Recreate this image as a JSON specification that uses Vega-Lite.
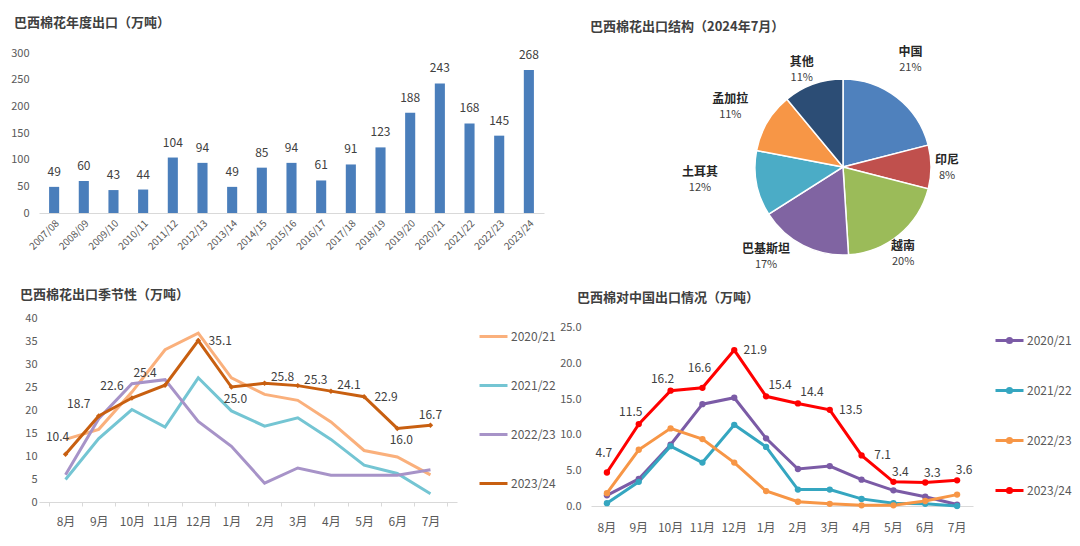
{
  "$schema": "https://vega.github.io/schema/vega-lite/v6.json",
  "padding": {"left": 10, "top": 17, "right": 0, "bottom": 0},
  "background": "white",
  "config": {
    "font": "Noto Sans CJK SC",
    "view": {"stroke": null},
    "axis": {"grid": false, "labelFont": "Noto Sans CJK SC", "labelColor": "#595959", "labelFontSize": 11},
    "title": {"font": "Noto Sans CJK SC", "fontSize": 13, "fontWeight": "bold", "color": "#404040"},
    "legend": {"labelFont": "Noto Sans CJK SC", "labelFontSize": 12, "labelColor": "#595959"}
  },
  "datasets": {
    "annual": [
      {"year": "2007/08", "value": 49}, {"year": "2008/09", "value": 60}, {"year": "2009/10", "value": 43},
      {"year": "2010/11", "value": 44}, {"year": "2011/12", "value": 104}, {"year": "2012/13", "value": 94},
      {"year": "2013/14", "value": 49}, {"year": "2014/15", "value": 85}, {"year": "2015/16", "value": 94},
      {"year": "2016/17", "value": 61}, {"year": "2017/18", "value": 91}, {"year": "2018/19", "value": 123},
      {"year": "2019/20", "value": 188}, {"year": "2020/21", "value": 243}, {"year": "2021/22", "value": 168},
      {"year": "2022/23", "value": 145}, {"year": "2023/24", "value": 268}
    ],
    "structure": [
      {"country": "中国", "pct": 0.21, "rank": 1},
      {"country": "印尼", "pct": 0.08, "rank": 2},
      {"country": "越南", "pct": 0.20, "rank": 3},
      {"country": "巴基斯坦", "pct": 0.17, "rank": 4},
      {"country": "土耳其", "pct": 0.12, "rank": 5},
      {"country": "孟加拉", "pct": 0.11, "rank": 6},
      {"country": "其他", "pct": 0.11, "rank": 7}
    ],
    "seasonal": [
      {"season": "2020/21", "month": "8月", "value": 13.6}, {"season": "2020/21", "month": "9月", "value": 15.8},
      {"season": "2020/21", "month": "10月", "value": 23.9}, {"season": "2020/21", "month": "11月", "value": 33.1},
      {"season": "2020/21", "month": "12月", "value": 36.7}, {"season": "2020/21", "month": "1月", "value": 27.0},
      {"season": "2020/21", "month": "2月", "value": 23.4}, {"season": "2020/21", "month": "3月", "value": 22.1},
      {"season": "2020/21", "month": "4月", "value": 17.4}, {"season": "2020/21", "month": "5月", "value": 11.2},
      {"season": "2020/21", "month": "6月", "value": 9.8}, {"season": "2020/21", "month": "7月", "value": 5.9},
      {"season": "2021/22", "month": "8月", "value": 4.9}, {"season": "2021/22", "month": "9月", "value": 13.8},
      {"season": "2021/22", "month": "10月", "value": 20.1}, {"season": "2021/22", "month": "11月", "value": 16.3},
      {"season": "2021/22", "month": "12月", "value": 27.0}, {"season": "2021/22", "month": "1月", "value": 19.8},
      {"season": "2021/22", "month": "2月", "value": 16.5}, {"season": "2021/22", "month": "3月", "value": 18.3},
      {"season": "2021/22", "month": "4月", "value": 13.6}, {"season": "2021/22", "month": "5月", "value": 8.0},
      {"season": "2021/22", "month": "6月", "value": 6.2}, {"season": "2021/22", "month": "7月", "value": 1.8},
      {"season": "2022/23", "month": "8月", "value": 5.9}, {"season": "2022/23", "month": "9月", "value": 18.1},
      {"season": "2022/23", "month": "10月", "value": 25.7}, {"season": "2022/23", "month": "11月", "value": 26.6},
      {"season": "2022/23", "month": "12月", "value": 17.5}, {"season": "2022/23", "month": "1月", "value": 12.1},
      {"season": "2022/23", "month": "2月", "value": 4.1}, {"season": "2022/23", "month": "3月", "value": 7.4},
      {"season": "2022/23", "month": "4月", "value": 5.8}, {"season": "2022/23", "month": "5月", "value": 5.8},
      {"season": "2022/23", "month": "6月", "value": 5.8}, {"season": "2022/23", "month": "7月", "value": 7.0},
      {"season": "2023/24", "month": "8月", "value": 10.4}, {"season": "2023/24", "month": "9月", "value": 18.7},
      {"season": "2023/24", "month": "10月", "value": 22.6}, {"season": "2023/24", "month": "11月", "value": 25.4},
      {"season": "2023/24", "month": "12月", "value": 35.1}, {"season": "2023/24", "month": "1月", "value": 25.0},
      {"season": "2023/24", "month": "2月", "value": 25.8}, {"season": "2023/24", "month": "3月", "value": 25.3},
      {"season": "2023/24", "month": "4月", "value": 24.1}, {"season": "2023/24", "month": "5月", "value": 22.9},
      {"season": "2023/24", "month": "6月", "value": 16.0}, {"season": "2023/24", "month": "7月", "value": 16.7}
    ],
    "china": [
      {"season": "2020/21", "month": "8月", "value": 1.5}, {"season": "2020/21", "month": "9月", "value": 3.8},
      {"season": "2020/21", "month": "10月", "value": 8.6}, {"season": "2020/21", "month": "11月", "value": 14.3},
      {"season": "2020/21", "month": "12月", "value": 15.2}, {"season": "2020/21", "month": "1月", "value": 9.5},
      {"season": "2020/21", "month": "2月", "value": 5.2}, {"season": "2020/21", "month": "3月", "value": 5.6},
      {"season": "2020/21", "month": "4月", "value": 3.7}, {"season": "2020/21", "month": "5月", "value": 2.2},
      {"season": "2020/21", "month": "6月", "value": 1.3}, {"season": "2020/21", "month": "7月", "value": 0.2},
      {"season": "2021/22", "month": "8月", "value": 0.4}, {"season": "2021/22", "month": "9月", "value": 3.4},
      {"season": "2021/22", "month": "10月", "value": 8.4}, {"season": "2021/22", "month": "11月", "value": 6.1},
      {"season": "2021/22", "month": "12月", "value": 11.4}, {"season": "2021/22", "month": "1月", "value": 8.3},
      {"season": "2021/22", "month": "2月", "value": 2.3}, {"season": "2021/22", "month": "3月", "value": 2.3},
      {"season": "2021/22", "month": "4月", "value": 1.0}, {"season": "2021/22", "month": "5月", "value": 0.4},
      {"season": "2021/22", "month": "6月", "value": 0.3}, {"season": "2021/22", "month": "7月", "value": 0.0},
      {"season": "2022/23", "month": "8月", "value": 1.8}, {"season": "2022/23", "month": "9月", "value": 7.9},
      {"season": "2022/23", "month": "10月", "value": 10.9}, {"season": "2022/23", "month": "11月", "value": 9.4},
      {"season": "2022/23", "month": "12月", "value": 6.1}, {"season": "2022/23", "month": "1月", "value": 2.1},
      {"season": "2022/23", "month": "2月", "value": 0.6}, {"season": "2022/23", "month": "3月", "value": 0.3},
      {"season": "2022/23", "month": "4月", "value": 0.1}, {"season": "2022/23", "month": "5月", "value": 0.1},
      {"season": "2022/23", "month": "6月", "value": 0.7}, {"season": "2022/23", "month": "7月", "value": 1.6},
      {"season": "2023/24", "month": "8月", "value": 4.7}, {"season": "2023/24", "month": "9月", "value": 11.5},
      {"season": "2023/24", "month": "10月", "value": 16.2}, {"season": "2023/24", "month": "11月", "value": 16.6},
      {"season": "2023/24", "month": "12月", "value": 21.9}, {"season": "2023/24", "month": "1月", "value": 15.4},
      {"season": "2023/24", "month": "2月", "value": 14.4}, {"season": "2023/24", "month": "3月", "value": 13.5},
      {"season": "2023/24", "month": "4月", "value": 7.1}, {"season": "2023/24", "month": "5月", "value": 3.4},
      {"season": "2023/24", "month": "6月", "value": 3.3}, {"season": "2023/24", "month": "7月", "value": 3.6}
    ]
  },
  "resolve": {"scale": {"color": "independent", "x": "independent", "y": "independent"}, "legend": {"color": "independent"}},
  "spacing": 4,
  "vconcat": [
    {
      "spacing": 46,
      "resolve": {"scale": {"color": "independent", "x": "independent", "y": "independent"}, "legend": {"color": "independent"}},
      "hconcat": [
        {
          "title": {"text": "巴西棉花年度出口（万吨）", "anchor": "start", "frame": "bounds", "dx": 4, "offset": 17},
          "width": 505,
          "height": 160,
          "data": {"name": "annual"},
          "encoding": {
            "x": {"field": "year", "type": "nominal", "sort": null,
              "scale": {"paddingInner": 0.66, "paddingOuter": 0.34},
              "axis": {"title": null, "labelAngle": -45, "labelFontSize": 10, "ticks": false, "domainColor": "#D9D9D9", "labelPadding": 5}},
            "y": {"field": "value", "type": "quantitative", "scale": {"domain": [0, 300], "nice": false},
              "axis": {"title": null, "values": [0, 50, 100, 150, 200, 250, 300], "domain": false, "ticks": false, "labelPadding": 10, "minExtent": 29, "maxExtent": 29}}
          },
          "layer": [
            {"mark": {"type": "bar", "color": "#4A7EBB"}},
            {"mark": {"type": "text", "dy": -8, "baseline": "bottom", "fontSize": 12, "color": "#404040"},
             "encoding": {"text": {"field": "value", "type": "quantitative"}}}
          ]
        },
        {
          "title": {"text": "巴西棉花出口结构（2024年7月）", "anchor": "start", "frame": "group", "dx": -70, "offset": -4},
          "width": 366,
          "height": 228,
          "data": {"name": "structure"},
          "encoding": {
            "theta": {"field": "pct", "type": "quantitative", "stack": true},
            "order": {"field": "rank", "type": "quantitative"}
          },
          "layer": [
            {"mark": {"type": "arc", "outerRadius": 88, "stroke": "white", "strokeWidth": 1.5},
             "encoding": {"color": {"field": "country", "type": "nominal",
               "scale": {"domain": ["中国", "印尼", "越南", "巴基斯坦", "土耳其", "孟加拉", "其他"],
                         "range": ["#4F81BD", "#C0504D", "#9BBB59", "#8064A2", "#4BACC6", "#F79646", "#2C4D75"]},
               "legend": null}}},
            {"mark": {"type": "text", "radius": 110, "dx": 0, "dy": -28, "fontSize": 12, "fontWeight": "bold", "color": "#262626"},
             "encoding": {"text": {"condition": {"test": "datum.country === '中国'", "field": "country", "type": "nominal"}, "value": ""}}},
            {"mark": {"type": "text", "radius": 110, "dx": 0, "dy": -12, "fontSize": 11, "color": "#404040"},
             "encoding": {"text": {"condition": {"test": "datum.country === '中国'", "field": "pct", "type": "quantitative", "format": ".0%"}, "value": ""}}},
            {"mark": {"type": "text", "radius": 110, "dx": -6, "dy": -7, "fontSize": 12, "fontWeight": "bold", "color": "#262626"},
             "encoding": {"text": {"condition": {"test": "datum.country === '印尼'", "field": "country", "type": "nominal"}, "value": ""}}},
            {"mark": {"type": "text", "radius": 110, "dx": -6, "dy": 9, "fontSize": 11, "color": "#404040"},
             "encoding": {"text": {"condition": {"test": "datum.country === '印尼'", "field": "pct", "type": "quantitative", "format": ".0%"}, "value": ""}}},
            {"mark": {"type": "text", "radius": 110, "dx": -10, "dy": -6, "fontSize": 12, "fontWeight": "bold", "color": "#262626"},
             "encoding": {"text": {"condition": {"test": "datum.country === '越南'", "field": "country", "type": "nominal"}, "value": ""}}},
            {"mark": {"type": "text", "radius": 110, "dx": -10, "dy": 10, "fontSize": 11, "color": "#404040"},
             "encoding": {"text": {"condition": {"test": "datum.country === '越南'", "field": "pct", "type": "quantitative", "format": ".0%"}, "value": ""}}},
            {"mark": {"type": "text", "radius": 110, "dx": -27, "dy": -16, "fontSize": 12, "fontWeight": "bold", "color": "#262626"},
             "encoding": {"text": {"condition": {"test": "datum.country === '巴基斯坦'", "field": "country", "type": "nominal"}, "value": ""}}},
            {"mark": {"type": "text", "radius": 110, "dx": -27, "dy": 0, "fontSize": 11, "color": "#404040"},
             "encoding": {"text": {"condition": {"test": "datum.country === '巴基斯坦'", "field": "pct", "type": "quantitative", "format": ".0%"}, "value": ""}}},
            {"mark": {"type": "text", "radius": 110, "dx": -35, "dy": -16, "fontSize": 12, "fontWeight": "bold", "color": "#262626"},
             "encoding": {"text": {"condition": {"test": "datum.country === '土耳其'", "field": "country", "type": "nominal"}, "value": ""}}},
            {"mark": {"type": "text", "radius": 110, "dx": -35, "dy": 0, "fontSize": 11, "color": "#404040"},
             "encoding": {"text": {"condition": {"test": "datum.country === '土耳其'", "field": "pct", "type": "quantitative", "format": ".0%"}, "value": ""}}},
            {"mark": {"type": "text", "radius": 110, "dx": -18, "dy": -12, "fontSize": 12, "fontWeight": "bold", "color": "#262626"},
             "encoding": {"text": {"condition": {"test": "datum.country === '孟加拉'", "field": "country", "type": "nominal"}, "value": ""}}},
            {"mark": {"type": "text", "radius": 110, "dx": -18, "dy": 4, "fontSize": 11, "color": "#404040"},
             "encoding": {"text": {"condition": {"test": "datum.country === '孟加拉'", "field": "pct", "type": "quantitative", "format": ".0%"}, "value": ""}}},
            {"mark": {"type": "text", "radius": 110, "dx": -4, "dy": -2, "fontSize": 12, "fontWeight": "bold", "color": "#262626"},
             "encoding": {"text": {"condition": {"test": "datum.country === '其他'", "field": "country", "type": "nominal"}, "value": ""}}},
            {"mark": {"type": "text", "radius": 110, "dx": -4, "dy": 14, "fontSize": 11, "color": "#404040"},
             "encoding": {"text": {"condition": {"test": "datum.country === '其他'", "field": "pct", "type": "quantitative", "format": ".0%"}, "value": ""}}}
          ]
        }
      ]
    },
    {
      "spacing": 0,
      "resolve": {"scale": {"color": "independent", "x": "independent", "y": "independent"}, "legend": {"color": "independent"}},
      "hconcat": [
        {
          "title": {"text": "巴西棉花出口季节性（万吨）", "anchor": "start", "frame": "bounds", "dx": 10, "offset": 10},
          "width": 418,
          "height": 184,
          "data": {"name": "seasonal"},
          "encoding": {
            "x": {"field": "month", "type": "ordinal", "sort": ["8月", "9月", "10月", "11月", "12月", "1月", "2月", "3月", "4月", "5月", "6月", "7月"],
              "bandPosition": 0.5,
              "scale": {"type": "band", "paddingInner": 0, "paddingOuter": 0.3},
              "axis": {"title": null, "labelAngle": 0, "tickBand": "extent", "tickSize": 4, "tickColor": "#D9D9D9", "domainColor": "#D9D9D9", "labelPadding": 10, "labelFontSize": 12}},
            "y": {"field": "value", "type": "quantitative", "scale": {"domain": [0, 40], "nice": false},
              "axis": {"title": null, "values": [0, 5, 10, 15, 20, 25, 30, 35, 40], "domain": false, "ticks": false, "labelPadding": 2, "minExtent": 29, "maxExtent": 29}},
            "color": {"field": "season", "type": "nominal",
              "scale": {"domain": ["2020/21", "2021/22", "2022/23", "2023/24"], "range": ["#FAB07C", "#74C5D3", "#A793C8", "#C85F10"]},
              "legend": {"title": null, "orient": "right", "offset": 18, "padding": 3, "symbolType": "M-1,0H1", "symbolSize": 784, "symbolStrokeWidth": 3, "rowPadding": 27, "labelOffset": 2}}
          },
          "layer": [
            {"mark": {"type": "line", "strokeWidth": 3}},
            {"transform": [{"filter": "datum.season === '2023/24'"}],
             "mark": {"type": "point", "shape": "diamond", "filled": true, "size": 30, "opacity": 1},
             "encoding": {"color": {"value": "#C85F10"}}},
            {"transform": [{"filter": "datum.season === '2023/24' && datum.month === '8月'"}],
             "mark": {"type": "text", "dx": -8, "dy": -17, "fontSize": 12},
             "encoding": {"text": {"field": "value", "type": "quantitative", "format": ".1f"}, "color": {"value": "#404040"}}},
            {"transform": [{"filter": "datum.season === '2023/24' && indexof(['9月','10月','11月'], datum.month) >= 0"}],
             "mark": {"type": "text", "dx": -20, "dy": -12, "fontSize": 12},
             "encoding": {"text": {"field": "value", "type": "quantitative", "format": ".1f"}, "color": {"value": "#404040"}}},
            {"transform": [{"filter": "datum.season === '2023/24' && indexof(['12月','5月'], datum.month) >= 0"}],
             "mark": {"type": "text", "dx": 22, "dy": 0, "fontSize": 12},
             "encoding": {"text": {"field": "value", "type": "quantitative", "format": ".1f"}, "color": {"value": "#404040"}}},
            {"transform": [{"filter": "datum.season === '2023/24' && indexof(['1月','6月'], datum.month) >= 0"}],
             "mark": {"type": "text", "dx": 4, "dy": 12, "fontSize": 12},
             "encoding": {"text": {"field": "value", "type": "quantitative", "format": ".1f"}, "color": {"value": "#404040"}}},
            {"transform": [{"filter": "datum.season === '2023/24' && indexof(['2月','3月','4月'], datum.month) >= 0"}],
             "mark": {"type": "text", "dx": 18, "dy": -6, "fontSize": 12},
             "encoding": {"text": {"field": "value", "type": "quantitative", "format": ".1f"}, "color": {"value": "#404040"}}},
            {"transform": [{"filter": "datum.season === '2023/24' && datum.month === '7月'"}],
             "mark": {"type": "text", "dx": 0, "dy": -10, "fontSize": 12},
             "encoding": {"text": {"field": "value", "type": "quantitative", "format": ".1f"}, "color": {"value": "#404040"}}}
          ]
        },
        {
          "title": {"text": "巴西棉对中国出口情况（万吨）", "anchor": "start", "frame": "group", "dx": -14, "offset": 13},
          "width": 382,
          "height": 188,
          "data": {"name": "china"},
          "encoding": {
            "x": {"field": "month", "type": "ordinal", "sort": ["8月", "9月", "10月", "11月", "12月", "1月", "2月", "3月", "4月", "5月", "6月", "7月"],
              "bandPosition": 0.5,
              "scale": {"type": "band", "paddingInner": 0, "paddingOuter": 0},
              "axis": {"title": null, "labelAngle": 0, "ticks": false, "domainColor": "#D9D9D9", "labelPadding": 16, "labelFontSize": 12}},
            "y": {"field": "value", "type": "quantitative", "scale": {"domain": [0, 26.4], "nice": false},
              "axis": {"title": null, "values": [0, 5, 10, 15, 20, 25], "format": ".1f", "domain": false, "ticks": false, "labelPadding": 10, "minExtent": 22, "maxExtent": 22}},
            "color": {"field": "season", "type": "nominal",
              "scale": {"domain": ["2020/21", "2021/22", "2022/23", "2023/24"], "range": ["#7B5BA6", "#35A6C0", "#F79646", "#FF0000"]},
              "legend": {"title": null, "orient": "right", "offset": 14, "padding": 7, "symbolType": "M-1,0H1M-0.15,0A0.15,0.15 0 1,1 0.15,0A0.15,0.15 0 1,1 -0.15,0", "symbolSize": 784, "symbolStrokeWidth": 3, "rowPadding": 26, "labelOffset": 2}}
          },
          "layer": [
            {"mark": {"type": "line", "strokeWidth": 3}},
            {"mark": {"type": "point", "shape": "circle", "filled": true, "size": 40, "opacity": 1}},
            {"transform": [{"filter": "datum.season === '2023/24' && indexof(['9月','10月'], datum.month) >= 0"}],
             "mark": {"type": "text", "dx": -8, "dy": -12, "fontSize": 12},
             "encoding": {"text": {"field": "value", "type": "quantitative", "format": ".1f"}, "color": {"value": "#404040"}}},
            {"transform": [{"filter": "datum.season === '2023/24' && indexof(['8月','11月'], datum.month) >= 0"}],
             "mark": {"type": "text", "dx": -3, "dy": -20, "fontSize": 12},
             "encoding": {"text": {"field": "value", "type": "quantitative", "format": ".1f"}, "color": {"value": "#404040"}}},
            {"transform": [{"filter": "datum.season === '2023/24' && indexof(['12月','3月','4月'], datum.month) >= 0"}],
             "mark": {"type": "text", "dx": 21, "dy": 0, "fontSize": 12},
             "encoding": {"text": {"field": "value", "type": "quantitative", "format": ".1f"}, "color": {"value": "#404040"}}},
            {"transform": [{"filter": "datum.season === '2023/24' && indexof(['1月','2月'], datum.month) >= 0"}],
             "mark": {"type": "text", "dx": 14, "dy": -11, "fontSize": 12},
             "encoding": {"text": {"field": "value", "type": "quantitative", "format": ".1f"}, "color": {"value": "#404040"}}},
            {"transform": [{"filter": "datum.season === '2023/24' && indexof(['5月','6月','7月'], datum.month) >= 0"}],
             "mark": {"type": "text", "dx": 7, "dy": -10, "fontSize": 12},
             "encoding": {"text": {"field": "value", "type": "quantitative", "format": ".1f"}, "color": {"value": "#404040"}}}
          ]
        }
      ]
    }
  ]
}
